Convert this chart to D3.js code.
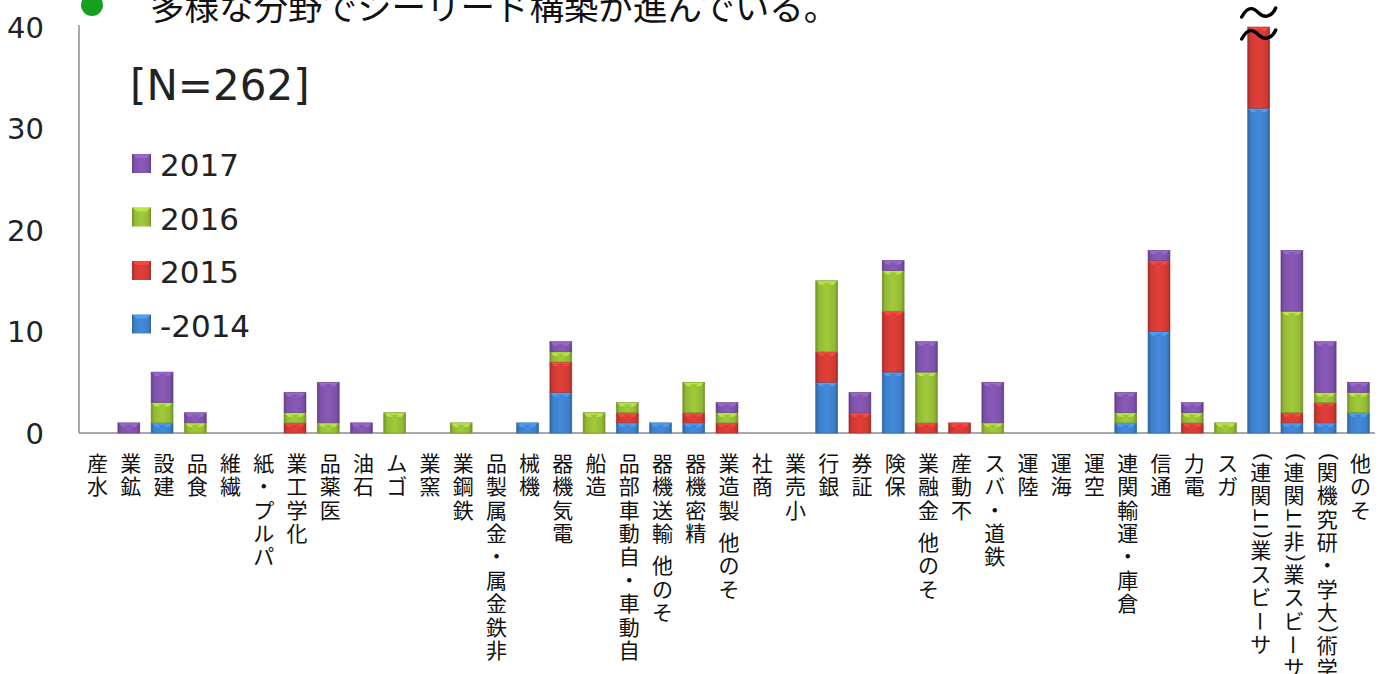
<!DOCTYPE html>
<html lang="ja">
<head>
<meta charset="utf-8">
<script src="https://cdn.jsdelivr.net/npm/d3@7"></script>
<style>
  html, body { margin: 0; padding: 0; background: #fff; }
  svg { display: block; }
</style>
</head>
<body>
<svg id="chart" width="1386" height="674"></svg>
<script>
// 業種別の件数（年別の積み上げ）
const categories = [
  "水産", "鉱業", "建設", "食品", "繊維", "パルプ・紙", "化学工業", "医薬品", "石油", "ゴム",
  "窯業", "鉄鋼業", "非鉄金属・金属製品", "機械", "電気機器", "造船", "自動車・自動車部品",
  "その他 輸送機器", "精密機器", "その他 製造業", "商社", "小売業", "銀行", "証券", "保険",
  "その他 金融業", "不動産", "鉄道・バス", "陸運", "海運", "空運", "倉庫・運輸関連", "通信",
  "電力", "ガス", "サービス業(IT関連)", "サービス業(非IT関連)", "学術(大学・研究機関)", "その他"
];
const seriesNames = ["-2014", "2015", "2016", "2017"];
const values2014 = [0,0,1,0,0,0,0,0,0,0,0,0,0,1,4,0,1,1,1,0,0,0,5,0,6,0,0,0,0,0,0,1,10,0,0,32,1,1,2];
const values2015 = [0,0,0,0,0,0,1,0,0,0,0,0,0,0,3,0,1,0,1,1,0,0,3,2,6,1,1,0,0,0,0,0,7,1,0,8,1,2,0];
const values2016 = [0,0,2,1,0,0,1,1,0,2,0,1,0,0,1,2,1,0,3,1,0,0,7,0,4,5,0,1,0,0,0,1,0,1,1,0,10,1,2];
const values2017 = [0,1,3,1,0,0,2,4,1,0,0,0,0,0,1,0,0,0,0,1,0,0,0,2,1,3,0,4,0,0,0,2,1,1,0,0,6,5,1];
const yTicks = [0, 10, 20, 30, 40];
const brokenCategory = "サービス業(IT関連)";
const titleText = "多様な分野でシーリード構築が進んでいる。";
const sampleSize = "[N=262]";

const colors = { "-2014": "#3d7fc9", "2015": "#cf3a33", "2016": "#93b936", "2017": "#7d52a8" };

const svg = d3.select("#chart");
const W = 1386, H = 674;
svg.append("rect").attr("width", W).attr("height", H).attr("fill", "#fff");

const plot = { left: 79, right: 1375, top: 27, bottom: 433 };

const x = d3.scaleBand().domain(categories).range([plot.left, plot.right]).paddingInner(0.34).paddingOuter(0.17);
const y = d3.scaleLinear().domain([0, 40]).range([plot.bottom, plot.top]).clamp(true);

// gradients giving each segment a bevelled look
const defs = svg.append("defs");
seriesNames.forEach((s, i) => {
  const base = d3.color(colors[s]);
  const g = defs.append("linearGradient").attr("id", "grad" + i).attr("x1", 0).attr("x2", 1).attr("y1", 0).attr("y2", 0);
  g.append("stop").attr("offset", "0%").attr("stop-color", base.darker(0.7));
  g.append("stop").attr("offset", "14%").attr("stop-color", base);
  g.append("stop").attr("offset", "50%").attr("stop-color", base.brighter(0.25));
  g.append("stop").attr("offset", "86%").attr("stop-color", base);
  g.append("stop").attr("offset", "100%").attr("stop-color", base.darker(0.7));
});

// title line
svg.append("circle").attr("cx", 92).attr("cy", 5).attr("r", 11).attr("fill", "#15a020");
svg.append("text").attr("x", 150).attr("y", 20)
  .attr("font-family", "'Noto Sans CJK JP', sans-serif").attr("font-size", 34.5)
  .attr("fill", "#111").text(titleText);

// axes
svg.append("line").attr("x1", plot.left).attr("x2", plot.left).attr("y1", 25).attr("y2", plot.bottom)
  .attr("stroke", "#8c8c8c").attr("stroke-width", 1.5);
svg.append("line").attr("x1", plot.left).attr("x2", plot.right).attr("y1", plot.bottom).attr("y2", plot.bottom)
  .attr("stroke", "#8c8c8c").attr("stroke-width", 1.5);

const yAxis = d3.axisLeft(y).tickValues(yTicks).tickSize(0).tickPadding(0);
const yg = svg.append("g").attr("transform", `translate(44,0)`).call(yAxis);
yg.select(".domain").remove();
yg.selectAll("text").attr("font-family", "'DejaVu Sans', Verdana, sans-serif")
  .attr("font-size", 29).attr("fill", "#222").attr("dy", "0.36em");

// stacked bars
const table = categories.map((c, i) => ({
  category: c, "-2014": values2014[i], "2015": values2015[i], "2016": values2016[i], "2017": values2017[i]
}));
const stacked = d3.stack().keys(seriesNames)(table);

const bw = x.bandwidth();
stacked.forEach((layer, si) => {
  const base = d3.color(colors[layer.key]);
  const g = svg.append("g");
  const segs = layer.filter(d => d[1] - d[0] > 0);
  const seg = g.selectAll("g").data(segs).join("g");
  seg.append("rect")
    .attr("x", d => x(d.data.category))
    .attr("y", d => y(d[1]))
    .attr("width", bw)
    .attr("height", d => y(d[0]) - y(d[1]))
    .attr("fill", `url(#grad${si})`)
    .attr("stroke", base.darker(0.6)).attr("stroke-width", 0.6);
  // light bevel strip along the top of each segment
  seg.append("path")
    .attr("d", d => {
      const x0 = x(d.data.category), y0 = y(d[1]);
      return `M${x0 + 1},${y0 + 0.5} L${x0 + bw - 1},${y0 + 0.5} L${x0 + bw - 4},${y0 + 4} L${x0 + 4},${y0 + 4} Z`;
    })
    .attr("fill", base.brighter(0.7)).attr("opacity", 0.85);
  seg.append("path")
    .attr("d", d => {
      const x0 = x(d.data.category), y0 = y(d[1]);
      return `M${x0 + bw * 0.3},${y0 + 2} L${x0 + bw * 0.7},${y0 + 2} L${x0 + bw / 2},${y0 + 5} Z`;
    })
    .attr("fill", base.darker(0.2)).attr("opacity", 0.6);
});

// axis break mark on the truncated column
const bx = x(brokenCategory) + bw / 2;
const tilde = (cx, cy) => `M${cx - 17},${cy + 4} C${cx - 10},${cy - 9} ${cx - 4},${cy - 4} ${cx},${cy} S${cx + 12},${cy + 6} ${cx + 17},${cy - 5}`;
[13, 35].forEach(cy => {
  svg.append("path").attr("d", tilde(bx, cy)).attr("fill", "none")
    .attr("stroke", "#000").attr("stroke-width", 3.4).attr("stroke-linecap", "round");
});

// legend
svg.append("text").attr("x", 130).attr("y", 100)
  .attr("font-family", "'DejaVu Sans', Verdana, sans-serif").attr("font-size", 42)
  .attr("fill", "#222").text(sampleSize);
const legendOrder = ["2017", "2016", "2015", "-2014"];
const lg = svg.append("g").selectAll("g").data(legendOrder).join("g")
  .attr("transform", (d, i) => `translate(132,${164 + i * 53.5})`);
lg.append("rect").attr("x", 0).attr("y", -10).attr("width", 19).attr("height", 19)
  .attr("fill", d => `url(#grad${seriesNames.indexOf(d)})`);
lg.append("path").attr("d", "M1,-9.5 L18,-9.5 L15,-6 L4,-6 Z")
  .attr("fill", d => d3.color(colors[d]).brighter(0.7)).attr("opacity", 0.85);
lg.append("text").attr("x", 28).attr("y", 12)
  .attr("font-family", "'DejaVu Sans', Verdana, sans-serif").attr("font-size", 31)
  .attr("fill", "#222").text(d => d);

// category labels: characters stacked so the text reads from the bottom up,
// with the last character next to the axis; kana and kanji stay upright,
// other characters are turned a quarter-turn.
// Liberation Sans comes first so each glyph cell keeps a compact line box;
// the Japanese glyphs themselves come from Noto Sans CJK.
const labelFont = "'Liberation Sans', 'Noto Sans CJK JP', sans-serif";
const labelSize = 21;
const fullAdv = 23.4;
const measure = svg.append("text").attr("font-family", labelFont).attr("font-size", labelSize).attr("visibility", "hidden");
const isUpright = ch => /[\u3040-\u30fa\u30fc-\u30ff\u4e00-\u9fff\u30fb]/.test(ch) && ch !== "ー";

const labels = svg.append("g").selectAll("g").data(categories).join("g")
  .attr("transform", d => `translate(${x(d) + bw / 2 + 2},452)`);
labels.each(function (label) {
  const g = d3.select(this);
  const chars = Array.from(label).reverse();
  let cursor = 0;
  chars.forEach(ch => {
    let adv;
    if (isUpright(ch) || ch === "ー") adv = fullAdv;
    else if (ch === " ") adv = 9;
    else { measure.text(ch); adv = measure.node().getComputedTextLength() + 2; }
    const cy = cursor + adv / 2;
    cursor += adv;
    if (ch === " ") return;
    const t = g.append("text")
      .attr("font-family", labelFont).attr("font-size", labelSize).attr("fill", "#111")
      .attr("text-anchor", "middle").attr("dy", "0.34em").text(ch);
    if (isUpright(ch)) t.attr("x", 0).attr("y", cy);
    else t.attr("transform", `translate(0,${cy}) rotate(-90)`);
  });
});
measure.remove();
</script>
</body>
</html>
